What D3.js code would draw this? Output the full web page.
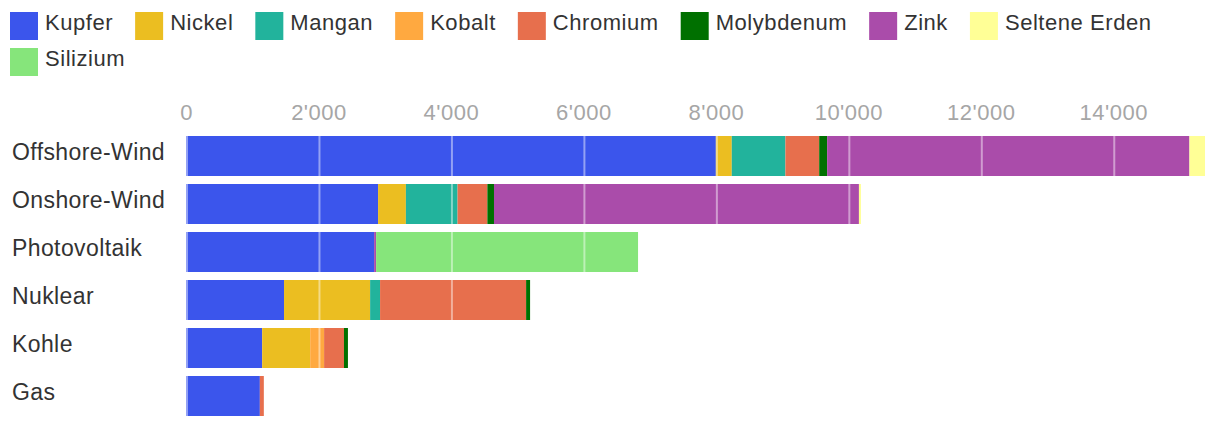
<!DOCTYPE html>
<html>
<head>
<meta charset="utf-8">
<script src="https://cdn.jsdelivr.net/npm/d3@7"></script>
<style>
  body { margin: 0; background: #fff; }
  svg text { font-family: "Liberation Sans", Arial, Helvetica, sans-serif; }
</style>
</head>
<body>
<div id="chart"></div>
<script>
// chart data (tonnes per TWh)
const categories = ["Offshore-Wind", "Onshore-Wind", "Photovoltaik", "Nuklear", "Kohle", "Gas"];
const materials = ["Kupfer", "Nickel", "Mangan", "Kobalt", "Chromium", "Molybdenum", "Zink", "Seltene Erden", "Silizium"];
const colors = ["#3b55ec", "#ebbe21", "#22b39c", "#ffa940", "#e76f4d", "#007000", "#aa4caa", "#ffff96", "#86e57b"];

const kupfer     = [8000, 2900, 2840, 1480, 1150, 1115];
const nickel     = [240, 420, 0, 1300, 725, 0];
const mangan     = [810, 780, 0, 150, 0, 0];
const kobalt     = [0, 0, 0, 0, 210, 0];
const chromium   = [510, 450, 0, 2205, 300, 60];
const molybdenum = [120, 100, 0, 60, 60, 0];
const zink       = [5470, 5510, 30, 0, 0, 0];
const selteneErden = [235, 30, 0, 0, 0, 0];
const silizium   = [0, 0, 3955, 0, 0, 0];

const xTicks = [0, 2000, 4000, 6000, 8000, 10000, 12000, 14000];

const width = 1220;
const height = 426;
const margin = {left: 186, right: 14, top: 132, bottom: 6};

const series = [kupfer, nickel, mangan, kobalt, chromium, molybdenum, zink, selteneErden, silizium];

// table for d3.stack
const rows = categories.map((c, i) => {
    const r = {cat: c};
    materials.forEach((m, j) => { r[m] = series[j][i]; });
    return r;
});
const stacked = d3.stack().keys(materials)(rows);

const svg = d3.select("#chart")
    .append("svg")
    .attr("width", width)
    .attr("height", height);

const xScale = d3.scaleLinear()
    .domain([0, 15400])
    .range([margin.left, width - margin.right]);

const yScale = d3.scaleBand()
    .domain(categories)
    .range([margin.top, height - margin.bottom])
    .paddingInner(1 / 6)
    .paddingOuter(1 / 12);

const color = d3.scaleOrdinal().domain(materials).range(colors);

const fmt = d3.formatLocale({decimal: ".", thousands: "'", grouping: [3], currency: ["", ""]}).format(",");

// bars
svg.append("g")
    .selectAll("g")
    .data(stacked)
    .join("g")
    .attr("fill", d => color(d.key))
    .selectAll("rect")
    .data(d => d)
    .join("rect")
    .attr("x", d => xScale(d[0]))
    .attr("y", d => yScale(d.data.cat))
    .attr("width", d => xScale(d[1]) - xScale(d[0]))
    .attr("height", yScale.bandwidth());

// grid lines drawn over the bars
svg.append("g")
    .selectAll("line")
    .data(xTicks)
    .join("line")
    .attr("x1", d => xScale(d) + 1)
    .attr("x2", d => xScale(d) + 1)
    .attr("y1", margin.top)
    .attr("y2", height - margin.bottom)
    .attr("stroke", "#fff")
    .attr("stroke-opacity", 0.45)
    .attr("stroke-width", 2);

// top axis labels
const xAxis = svg.append("g")
    .attr("transform", `translate(0,${margin.top - 12})`)
    .call(d3.axisTop(xScale).tickValues(xTicks).tickFormat(fmt).tickSize(0).tickPadding(0));
xAxis.select(".domain").remove();
xAxis.selectAll("text")
    .attr("font-size", "22px")
    .attr("font-family", "Liberation Sans, Arial, sans-serif")
    .attr("fill", "#a6a6a6")
    .attr("letter-spacing", "0.5px")
    .attr("dy", 0);

// category labels
svg.append("g")
    .selectAll("text")
    .data(categories)
    .join("text")
    .attr("x", 12)
    .attr("y", d => yScale(d) + yScale.bandwidth() / 2 + 4)
    .attr("font-size", "23px")
    .attr("letter-spacing", "0.4px")
    .attr("fill", "#333")
    .text(d => d);

// legend, flowing left to right and wrapping
const legend = svg.append("g");
let lx = 10, ly = 12;
materials.forEach((m, i) => {
    const item = legend.append("g");
    item.append("rect")
        .attr("width", 28)
        .attr("height", 28)
        .attr("fill", colors[i]);
    const t = item.append("text")
        .attr("x", 35)
        .attr("y", 18)
        .attr("font-size", "22px")
        .attr("letter-spacing", "0.55px")
        .attr("fill", "#333")
        .text(m);
    const w = 35 + t.node().getComputedTextLength();
    if (lx + w > width - 10) { lx = 10; ly += 36; }
    item.attr("transform", `translate(${lx},${ly})`);
    lx += w + 22;
});
</script>
</body>
</html>
